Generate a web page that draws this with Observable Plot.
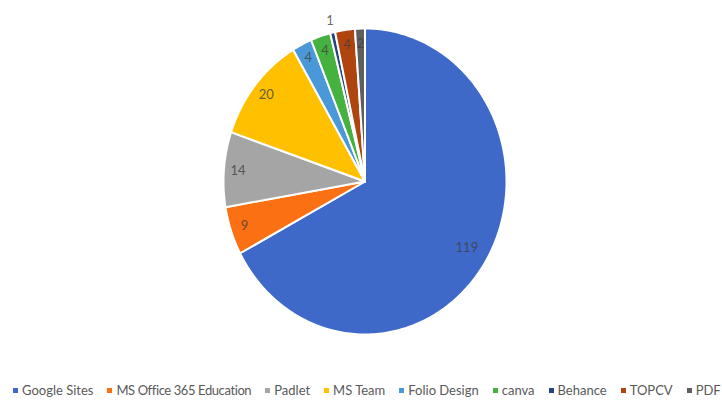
<!DOCTYPE html>
<html>
<head>
<meta charset="utf-8">
<script src="https://cdn.jsdelivr.net/npm/d3@7"></script>
<script src="https://cdn.jsdelivr.net/npm/@observablehq/plot@0.6"></script>
<style>
  html, body { margin: 0; padding: 0; background: #fff; }
  body { width: 722px; height: 401px; overflow: hidden; font-family: Lato, "Open Sans", sans-serif; }
  #legend { display: flex; align-items: center; white-space: nowrap; padding-left: 13px; height: 22px; margin-top: 11px; font-size: 13px; color: #595959; }
  #legend .item { display: flex; align-items: center; margin-right: 14px; }
  #legend .sw { width: 5px; height: 5px; margin-right: 4px; }
</style>
</head>
<body>
<div id="chart"></div>
<div id="legend"></div>
<script>
const names = ["Google Sites", "MS Office 365 Education", "Padlet", "MS Team", "Folio Design", "canva", "Behance", "TOPCV", "PDF"];
const values = [119, 9, 14, 20, 4, 4, 1, 4, 2];
const colors = ["#3F69C9", "#FA7012", "#A5A5A5", "#FFC000", "#4A98D8", "#45B23F", "#25437E", "#AF440E", "#5E5E5E"];

const arcs = d3.pie().sort(null).startAngle(0).endAngle(2 * Math.PI)(values);
const points = [];
arcs.forEach((a, i) => {
  points.push({name: names[i], x: 0, y: 0});
  const n = Math.max(2, Math.ceil((a.endAngle - a.startAngle) / (Math.PI / 180)));
  for (let k = 0; k <= n; k++) {
    const t = a.startAngle + (a.endAngle - a.startAngle) * k / n;
    points.push({name: names[i], x: Math.sin(t), y: Math.cos(t)});
  }
  points.push({name: names[i], x: 0, y: 0});
});
const labels = arcs.map((a, i) => {
  const m = (a.startAngle + a.endAngle) / 2;
  const r = values[i] > 50 ? 0.84 : values[i] < 2 ? 1.08 : 0.9;
  return {text: String(values[i]), x: r * Math.sin(m), y: r * Math.cos(m)};
});

const chart = Plot.plot({
  width: 722,
  height: 368,
  margin: 0,
  x: {domain: [-1, 1], range: [223, 506], axis: null},
  y: {domain: [-1, 1], range: [334, 28], axis: null},
  color: {domain: names, range: colors},
  style: {fontFamily: "Lato, 'Open Sans', sans-serif", background: "#fff"},
  marks: [
    Plot.line(points, {x: "x", y: "y", z: "name", fill: "name", stroke: "white", strokeWidth: 2, strokeLinejoin: "round", curve: "linear"}),
    Plot.text(labels, {x: "x", y: "y", text: "text", fill: "#404040", fillOpacity: 0.8, fontSize: 13})
  ]
});
document.getElementById("chart").appendChild(chart);

const legend = document.getElementById("legend");
names.forEach((n, i) => {
  const item = document.createElement("div");
  item.className = "item";
  const sw = document.createElement("span");
  sw.className = "sw";
  sw.style.background = colors[i];
  const tx = document.createElement("span");
  tx.textContent = n;
  if (n.length > 20) { tx.style.letterSpacing = "-0.4px"; }
  item.appendChild(sw);
  item.appendChild(tx);
  legend.appendChild(item);
});
</script>
</body>
</html>
